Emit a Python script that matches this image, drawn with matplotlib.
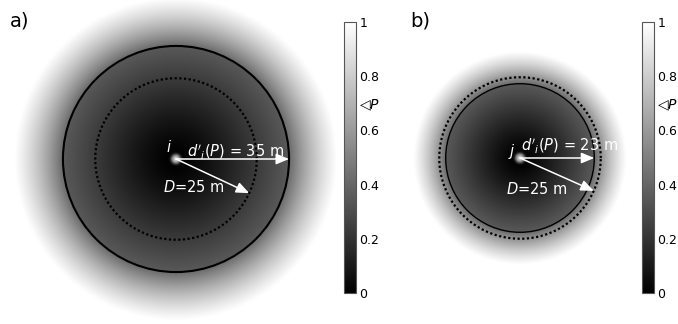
import numpy as np
import matplotlib
matplotlib.use("Agg")
import matplotlib.pyplot as plt
from matplotlib.colors import Normalize
from matplotlib.cm import ScalarMappable
from matplotlib.patches import Circle

# Panel parameters (metres)
panel_labels = ["a)", "b)"]
node_names = ["i", "j"]
d_threshold = [35, 23]          # d'_i(P): solid circle radius
d_range = [25, 25]              # D: dotted circle radius
fade_edge = [50, 33]            # radius where the field fades to white
field_scale = [53.6, 35.2]      # lambda of P(d) = 1 - exp(-(d/lambda)^1.5)
inside_dim = [0.85, 0.85]       # darkening inside the solid circle
diag_angle = [-25, -24]         # direction of the D arrow (degrees)
cbar_ticks = [0, 0.2, 0.4, 0.6, 0.7, 0.8, 1]
cbar_labels = ["0", "0.2", "0.4", "0.6", "\u25c1$P$", "0.8", "1"]

W, H, DPI = 678, 324, 100
S = 3.23  # pixels per metre

fig = plt.figure(figsize=(W / DPI, H / DPI), dpi=DPI)

# axes boxes in pixels: (left, right), centre (x, y-from-top)
ax_boxes = [(0, 340), (392, 638)]
centres = [(176, 159), (520, 158)]
cbar_x = [344, 642]


def field(d, lam, R, edge, dim):
    p = 1 - np.exp(-(d / lam) ** 1.5)
    p = np.where(d < R, p * dim, p)
    a = np.clip((edge - d) / (edge - R), 0, 1)
    v = p * a + (1 - a)
    # bright node marker at the centre
    w = np.exp(-(d / 1.6) ** 4)
    v = v + (0.6 - v) * w
    w2 = np.exp(-(d / 0.8) ** 2)
    v = v + (0.85 - v) * w2
    return v


for k in range(2):
    left, right = ax_boxes[k]
    cx, cy_top = centres[k]
    cy = H - cy_top
    ax = fig.add_axes([left / W, 0, (right - left) / W, 1])
    xlim = ((left - cx) / S, (right - cx) / S)
    ylim = (-cy / S, (H - cy) / S)
    ax.set_xlim(*xlim)
    ax.set_ylim(*ylim)
    ax.set_axis_off()

    xs = np.linspace(xlim[0], xlim[1], 700)
    ys = np.linspace(ylim[0], ylim[1], 700)
    X, Y = np.meshgrid(xs, ys)
    D = np.hypot(X, Y)
    V = field(D, field_scale[k], d_threshold[k], fade_edge[k], inside_dim[k])
    ax.imshow(V, cmap="gray", vmin=0, vmax=1, origin="lower",
              extent=(xlim[0], xlim[1], ylim[0], ylim[1]),
              interpolation="bilinear", aspect="auto")

    R = d_threshold[k]
    Dr = d_range[k]
    ax.add_patch(Circle((0, 0), R, fill=False, color="black",
                        lw=1.5 if k == 0 else 1.0))
    t = np.linspace(0, 2 * np.pi, 721)
    ax.plot(Dr * np.cos(t), Dr * np.sin(t), color="black", lw=1.6,
            linestyle=(0, (1, 1.1)), dash_capstyle="butt")

    arrow = dict(arrowstyle="-|>,head_length=0.6,head_width=0.25",
                 color="white", lw=1.1, mutation_scale=13,
                 shrinkA=0, shrinkB=0)
    ax.annotate("", xy=(R, 0), xytext=(0, 0), arrowprops=arrow)
    th = np.deg2rad(diag_angle[k])
    ax.annotate("", xy=(Dr * np.cos(th), Dr * np.sin(th)), xytext=(0, 0),
                arrowprops=arrow)

    fs = 10.5
    if k == 0:
        ax.text(-2.2, 2.2, "$%s$" % node_names[k], color="white",
                fontsize=fs, ha="center", va="baseline")
        ax.text(3.4, 0.9, "$d'_i(P)$ = %d m" % R, color="white",
                fontsize=fs, ha="left", va="baseline")
        ax.text(-4.0, -10.2, "$D$=%d m" % Dr, color="white",
                fontsize=fs, ha="left", va="baseline")
    else:
        ax.text(-2.5, 0.6, "$%s$" % node_names[k], color="white",
                fontsize=fs, ha="center", va="baseline")
        ax.text(0.3, 2.5, "$d'_i(P)$ = %d m" % R, color="white",
                fontsize=fs, ha="left", va="baseline")
        ax.text(-4.3, -11.1, "$D$=%d m" % Dr, color="white",
                fontsize=fs, ha="left", va="baseline")

    fig.text((10 if k == 0 else 410) / W, 1 - 21 / H, panel_labels[k],
             fontsize=14, ha="left", va="center")

    cax = fig.add_axes([cbar_x[k] / W, (H - 293) / H, 12 / W, 271 / H])
    cax.set_zorder(5)
    cb = fig.colorbar(ScalarMappable(norm=Normalize(0, 1), cmap="gray"),
                      cax=cax, ticks=cbar_ticks)
    cb.set_ticklabels(cbar_labels)
    cb.outline.set_edgecolor("#555555")
    cb.outline.set_linewidth(0.8)
    cax.tick_params(length=0, pad=2.5, labelsize=9)
    for lab in cax.get_yticklabels():
        if "P" in lab.get_text():
            lab.set_fontsize(10)

fig.savefig("out.png", dpi=DPI)
